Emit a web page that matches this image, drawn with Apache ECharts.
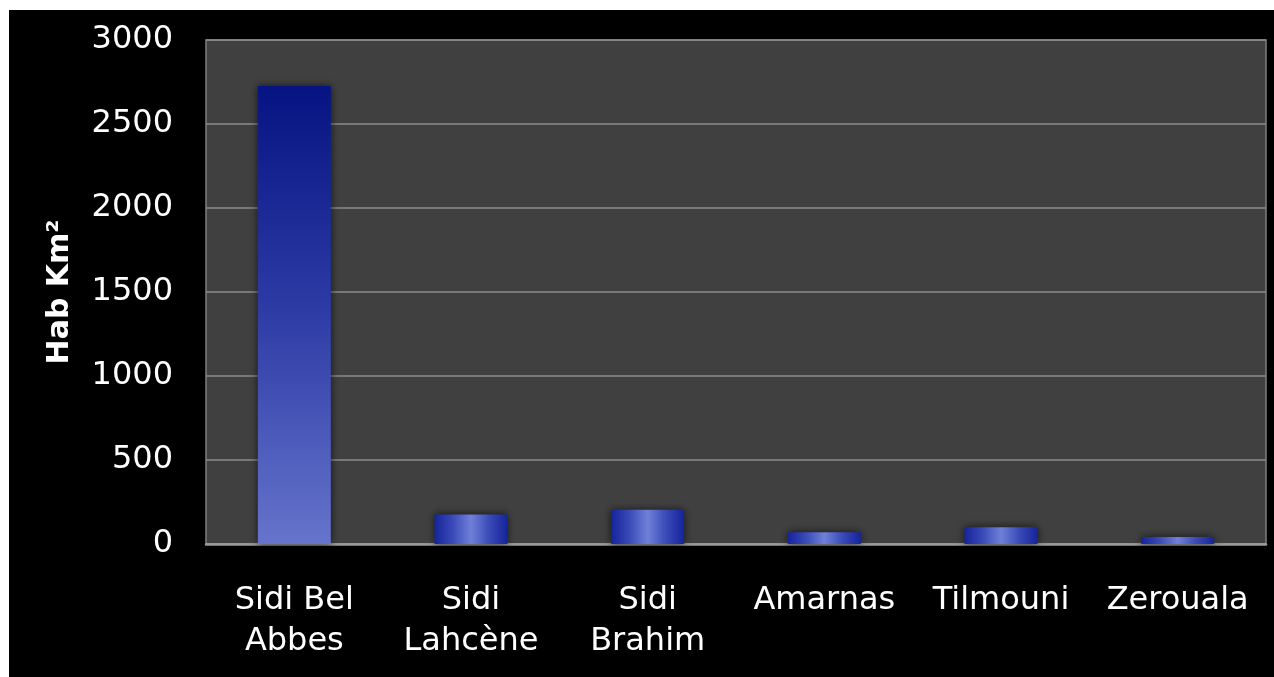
<!DOCTYPE html>
<html>
<head>
<meta charset="utf-8">
<script src="https://cdn.jsdelivr.net/npm/echarts@6/dist/echarts.min.js"></script>
<style>
  html, body { margin: 0; padding: 0; background: #ffffff; width: 1274px; height: 677px; overflow: hidden; }
  #chart { position: absolute; left: 9px; top: 10px; width: 1265px; height: 667px; }
</style>
</head>
<body>
<div id="chart"></div>
<script>
// Data
const categories = ['Sidi Bel\nAbbes', 'Sidi\nLahcène', 'Sidi\nBrahim', 'Amarnas', 'Tilmouni', 'Zerouala'];
const density = [2726, 176, 204, 70, 100, 41];
const yTicks = { min: 0, max: 3000, interval: 500 };
const yName = 'Hab Km²';

const chart = echarts.init(document.getElementById('chart'));

function barStyle(i) {
  if (i === 0) {
    return {
      color: new echarts.graphic.LinearGradient(0, 0, 0, 1, [
        { offset: 0, color: '#061483' },
        { offset: 0.5, color: '#2e3ca6' },
        { offset: 1, color: '#6674cc' }
      ])
    };
  }
  return {
    color: new echarts.graphic.LinearGradient(0, 0, 1, 0, [
      { offset: 0, color: '#15249a' },
      { offset: 0.25, color: '#3a4ab8' },
      { offset: 0.5, color: '#7080d8' },
      { offset: 0.75, color: '#3a4ab8' },
      { offset: 1, color: '#15249a' }
    ])
  };
}

const seriesData = density.map((v, i) => ({ value: v, itemStyle: barStyle(i) }));

chart.setOption({
  backgroundColor: '#000000',
  animation: false,
  grid: {
    left: 197, top: 30, right: 8, bottom: 133,
    show: true,
    backgroundColor: '#404040',
    borderColor: '#7f7f7f',
    borderWidth: 1.5
  },
  xAxis: {
    type: 'category',
    data: categories,
    axisTick: { show: false },
    axisLine: { show: true, lineStyle: { color: '#9a9a9a', width: 2.5 } },
    axisLabel: {
      interval: 0,
      color: '#ffffff',
      fontFamily: 'DejaVu Sans',
      fontSize: 32,
      lineHeight: 41,
      margin: 36,
      align: 'center'
    }
  },
  yAxis: {
    type: 'value',
    min: yTicks.min,
    max: yTicks.max,
    interval: yTicks.interval,
    name: yName,
    nameLocation: 'middle',
    nameGap: 131,
    nameTextStyle: {
      color: '#ffffff',
      fontFamily: 'DejaVu Sans',
      fontWeight: 'bold',
      fontSize: 30
    },
    axisLine: { show: false },
    axisTick: { show: false },
    splitLine: { lineStyle: { color: '#8c8c8c', width: 1.5 } },
    axisLabel: {
      color: '#ffffff',
      fontFamily: 'DejaVu Sans',
      fontSize: 32,
      margin: 33,
      formatter: (v) => String(v)
    }
  },
  series: [{
    type: 'bar',
    data: seriesData,
    barWidth: '41.3%',
    itemStyle: {
      shadowBlur: 8,
      shadowColor: 'rgba(0,0,0,0.7)'
    }
  }]
});
</script>
</body>
</html>
